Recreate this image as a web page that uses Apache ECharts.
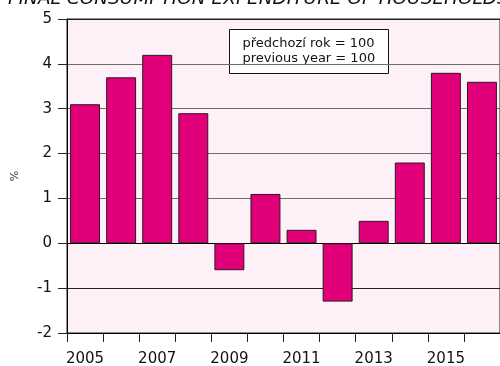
<!DOCTYPE html>
<html>
<head>
<meta charset="utf-8">
<script src="https://cdn.jsdelivr.net/npm/echarts@6/dist/echarts.min.js"></script>
<style>
  html, body { margin: 0; padding: 0; background: #fff; }
  #chart { width: 500px; height: 366px; }
</style>
</head>
<body>
<div id="chart"></div>
<script>
  // roky a meziroční změna (předchozí rok = 100)
  const years = ['2005', '2006', '2007', '2008', '2009', '2010', '2011', '2012', '2013', '2014', '2015', '2016'];
  const growth = [3.1, 3.7, 4.2, 2.9, -0.6, 1.1, 0.3, -1.3, 0.5, 1.8, 3.8, 3.6];
  const legendLines = ['předchozí rok = 100', 'previous year = 100'];
  const titleText = 'FINAL CONSUMPTION EXPENDITURE OF HOUSEHOLDS';

  const font = 'DejaVu Sans';
  const myChart = echarts.init(document.getElementById('chart'));

  const option = {
    animation: false,
    backgroundColor: '#ffffff',
    grid: {
      left: 67,
      right: 0,
      top: 19,
      bottom: 33,
      outerBoundsMode: 'none',
      containLabel: false,
      show: true,
      backgroundColor: '#fdf0f6',
      borderColor: '#222',
      borderWidth: 1
    },
    xAxis: {
      type: 'category',
      data: years,
      boundaryGap: true,
      axisLine: { onZero: false, lineStyle: { color: '#000', width: 1 } },
      axisTick: { show: true, interval: 0, length: 9, lineStyle: { color: '#222' } },
      axisLabel: {
        interval: 1,
        margin: 19,
        color: '#111',
        fontFamily: font,
        fontSize: 15
      },
      splitLine: { show: false }
    },
    yAxis: {
      type: 'value',
      min: -2,
      max: 5,
      interval: 1,
      name: '%',
      nameLocation: 'middle',
      nameRotate: 90,
      nameGap: 46,
      nameTextStyle: { color: '#333', fontFamily: font, fontSize: 11 },
      axisLine: { show: true, lineStyle: { color: '#000' } },
      axisTick: { show: true, length: 9, lineStyle: { color: '#222' } },
      axisLabel: { margin: 15, color: '#111', fontFamily: font, fontSize: 15 },
      splitLine: {
        show: true,
        lineStyle: {
          // -2, -1, 0, 1, 2, 3, 4, 5
          color: ['#000', '#222', '#000', '#6e6e6e', '#6e6e6e', '#6e6e6e', '#6e6e6e', '#222'],
          width: 1
        }
      }
    },
    series: [{
      type: 'bar',
      data: growth,
      barCategoryGap: '17%',
      itemStyle: {
        color: '#e2007a',
        borderColor: '#2e1622',
        borderWidth: 1
      }
    }],
    graphic: [
      {
        type: 'text',
        left: 8,
        top: -10,
        style: {
          text: titleText,
          fill: '#111',
          font: 'italic 18.5px "DejaVu Sans"'
        }
      },
      {
        type: 'group',
        left: 229,
        top: 29,
        children: [
          {
            type: 'rect',
            shape: { x: 0, y: 0, width: 159, height: 44 },
            style: { fill: '#fff', stroke: '#111', lineWidth: 1 }
          },
          {
            type: 'text',
            x: 13,
            y: 7,
            style: {
              text: legendLines.join('\n'),
              fill: '#111',
              font: '13px "DejaVu Sans"',
              lineHeight: 15
            }
          }
        ]
      }
    ]
  };

  myChart.setOption(option);
</script>
</body>
</html>
